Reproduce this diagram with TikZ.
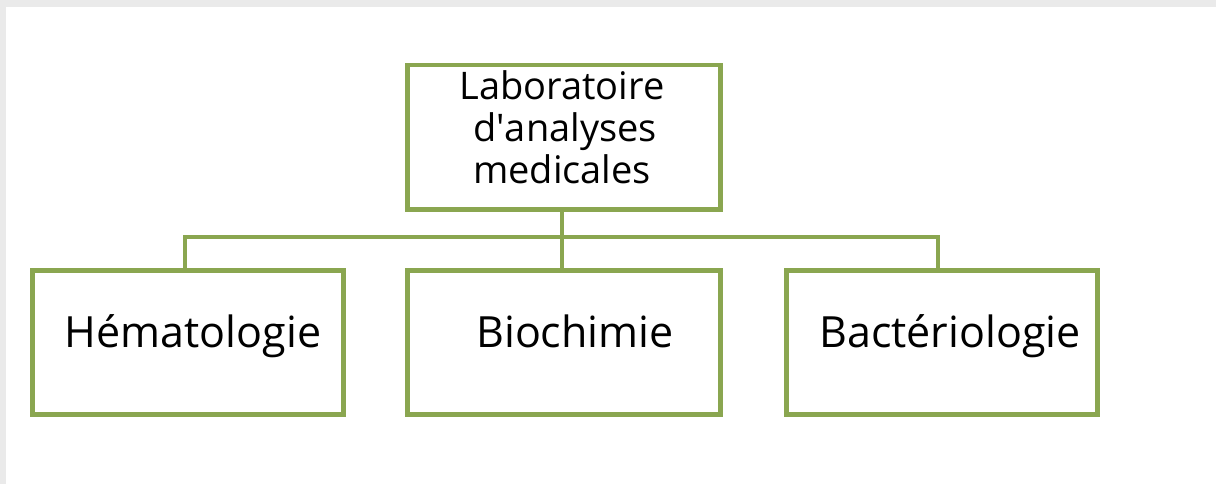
\documentclass[tikz,border=0pt]{standalone}
\usepackage{fontspec}
\setmainfont{Open Sans}
\definecolor{boxgreen}{RGB}{138,166,80}
\definecolor{framegray}{RGB}{234,234,234}
\begin{document}
\begin{tikzpicture}[x=1pt,y=-1pt,
  orgbox/.style={draw=boxgreen,line width=4.5pt,fill=white,minimum width=311pt,minimum height=144pt,inner sep=0pt,anchor=north west},
  link/.style={draw=boxgreen,line width=4.5pt},
  lbl/.style={font=\fontsize{43}{46}\selectfont,inner sep=0pt,anchor=base,text=black},
  toplbl/.style={font=\fontsize{38}{42}\selectfont,inner sep=0pt,align=center,text=black}]
\fill[framegray] (0,0) rectangle (1216,484);
\fill[white] (6,7) rectangle (1216,484);
\useasboundingbox (0,0) rectangle (1216,484);
% boxes
\node[orgbox,minimum width=313pt] (top) at (405,63) {};
\node[orgbox] (hem) at (30,268) {};
\node[orgbox,minimum width=313pt] (bio) at (405,268) {};
\node[orgbox] (bac) at (784,268) {};
% connectors
\coordinate (j) at (562,237);
\coordinate (jl) at (185,237);
\coordinate (jr) at (938,237);
\draw[link] (top.south -| j) -- (bio.north -| j);
\draw[link,line cap=rect] (jl) -- (jr);
\draw[link] (jl) -- (hem.north -| jl);
\draw[link] (jr) -- (bac.north -| jr);
% labels
\node[toplbl,anchor=base] (t1) at (562,100) {Laboratoire};
\node[toplbl,anchor=base] (t2) at (565,142) {d\textquotesingle analyses};
\node[toplbl,anchor=base] (t3) at (562,184) {medicales};
\node[lbl] (lh) at (193,347) {Hématologie};
\node[lbl] (lb) at (575,347) {Biochimie};
\node[lbl] (lc) at (950,347) {Bactériologie};
\end{tikzpicture}
\end{document}
